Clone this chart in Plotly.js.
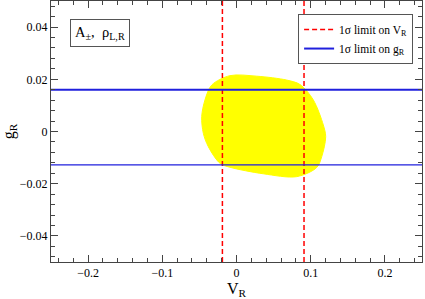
<!DOCTYPE html>
<html>
<head>
<meta charset="utf-8">
<script src="https://cdn.plot.ly/plotly-3.0.1.min.js"></script>
<style>html,body{margin:0;padding:0;background:#fff;}#chart{width:425px;height:299px;}</style>
</head>
<body>
<div id="chart"></div>
<script>
// Allowed region (yellow) outline
var regionX = [-0.0334, -0.0088, 0.0272, 0.0677, 0.0856, 0.1035, 0.117, 0.1202, 0.1148, 0.1081, 0.0811, 0.0361, -0.0088, -0.0222, -0.038, -0.0447, -0.0469, -0.0425, -0.0334];
var regionY = [0.0178, 0.0214, 0.0212, 0.0197, 0.0180, 0.0121, 0.0025, -0.002, -0.0097, -0.0138, -0.0173, -0.0162, -0.0137, -0.0122, -0.0058, -0.0007, 0.0057, 0.0121, 0.0178];
// 1 sigma limits
var vrLimits = [-0.019, 0.091];
var grLimits = [0.016, -0.0128];
var xRange = [-0.25, 0.25];
var yRange = [-0.05, 0.05];

var traces = [];
traces.push({
  x: regionX, y: regionY, type: 'scatter', mode: 'lines',
  fill: 'toself', fillcolor: '#ffff00',
  line: {color: '#ffff00', width: 1, shape: 'spline', smoothing: 0.9},
  showlegend: false, hoverinfo: 'skip'
});
vrLimits.forEach(function (v, i) {
  traces.push({
    x: [v, v], y: yRange, type: 'scatter', mode: 'lines',
    line: {color: '#ff0000', width: 1.5, dash: '5px,3px'},
    name: '1σ limit on V<sub>R</sub>', legendgroup: 'vr', showlegend: i === 0
  });
});
grLimits.forEach(function (g, i) {
  traces.push({
    x: xRange, y: [g, g], type: 'scatter', mode: 'lines',
    line: {color: '#2020dd', width: i === 0 ? 2 : 1.3},
    name: '1σ limit on g<sub>R</sub>', legendgroup: 'gr', showlegend: i === 0
  });
});

var font = 'Liberation Serif, Times New Roman, serif';
var layout = {
  width: 425, height: 299,
  margin: {l: 51, r: 3, t: 1, b: 37},
  paper_bgcolor: '#fff', plot_bgcolor: '#fff',
  font: {family: font, size: 12, color: '#000'},
  showlegend: true,
  legend: {
    x: 0.976, y: 0.95, xanchor: 'right', yanchor: 'top',
    bgcolor: '#fff', bordercolor: '#555', borderwidth: 1,
    font: {family: font, size: 11.5, color: '#000'},
    tracegroupgap: 0, itemwidth: 30
  },
  xaxis: {
    range: xRange, dtick: 0.1, tick0: 0,
    ticks: 'inside', ticklen: 7, tickwidth: 1, tickcolor: '#444',
    minor: {dtick: 0.02, ticks: 'inside', ticklen: 4, tickcolor: '#444'},
    showline: true, linecolor: '#444', linewidth: 1, mirror: 'allticks',
    showgrid: false, zeroline: false,
    tickfont: {family: font, size: 12},
    title: {text: 'V<sub>R</sub>', font: {family: font, size: 16}, standoff: 2}
  },
  yaxis: {
    range: yRange, dtick: 0.02, tick0: 0,
    ticks: 'inside', ticklen: 7, tickwidth: 1, tickcolor: '#444',
    minor: {dtick: 0.004, ticks: 'inside', ticklen: 4, tickcolor: '#444'},
    showline: true, linecolor: '#444', linewidth: 1, mirror: 'allticks',
    showgrid: false, zeroline: false,
    tickfont: {family: font, size: 12},
    title: {text: 'g<sub>R</sub>', font: {family: font, size: 16}, standoff: 8}
  },
  annotations: [{
    xref: 'paper', yref: 'paper', x: 0.052, y: 0.93, xanchor: 'left', yanchor: 'top',
    text: 'A<sub>±</sub>, &nbsp;ρ<sub>L,R</sub>', showarrow: false,
    font: {family: font, size: 14.5, color: '#000'},
    bordercolor: '#555', borderwidth: 1, borderpad: 4, bgcolor: '#fff'
  }]
};

Plotly.newPlot('chart', traces, layout, {staticPlot: true, displayModeBar: false});
</script>
</body>
</html>
